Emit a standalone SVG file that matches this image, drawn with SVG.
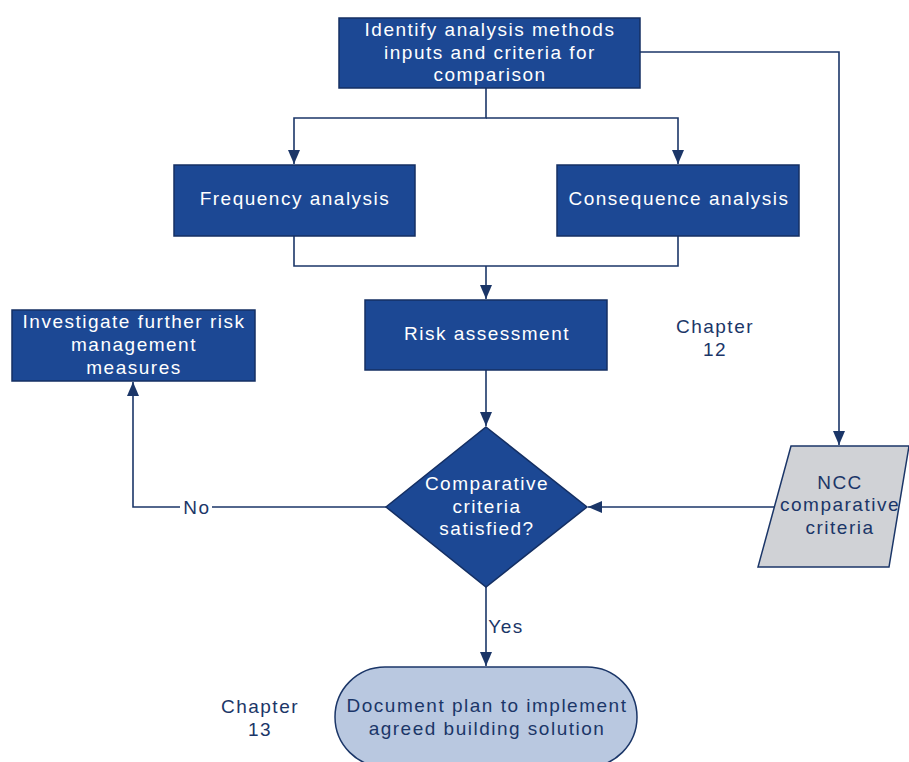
<svg xmlns="http://www.w3.org/2000/svg" width="909" height="762" viewBox="0 0 909 762">
<style>
.box{fill:#1c4894;stroke:#142f63;stroke-width:1.5}
.wt{fill:#ffffff;font-family:"Liberation Sans",Arial,sans-serif;font-size:19px;letter-spacing:1.5px;text-anchor:middle}
.dt{fill:#1b3668;font-family:"Liberation Sans",Arial,sans-serif;font-size:19px;letter-spacing:1.5px;text-anchor:middle}
.ln{fill:none;stroke:#1b3668;stroke-width:1.6}
</style>
<defs>
<marker id="ah" viewBox="0 0 14 12" refX="14" refY="6" markerWidth="14" markerHeight="12" markerUnits="userSpaceOnUse" orient="auto">
<path d="M0,0 L14,6 L0,12 z" fill="#1b3668"/>
</marker>
</defs>
<rect width="909" height="762" fill="#ffffff"/>
<g id="connectors">
<path class="ln" d="M486,88 V118 H294 V164" marker-end="url(#ah)"/>
<path class="ln" d="M486,118 H678 V164" marker-end="url(#ah)"/>
<path class="ln" d="M640,52 H839 V445" marker-end="url(#ah)"/>
<path class="ln" d="M294,236 V266 H678 V236"/>
<path class="ln" d="M486,266 V299" marker-end="url(#ah)"/>
<path class="ln" d="M486,370 V426" marker-end="url(#ah)"/>
<path class="ln" d="M775,507 H588" marker-end="url(#ah)"/>
<path class="ln" d="M386,507 H133 V382" marker-end="url(#ah)"/>
<path class="ln" d="M486,587 V666" marker-end="url(#ah)"/>
<rect x="180" y="497" width="32" height="20" fill="#ffffff"/>
<text class="dt" x="197" y="514">No</text>
<text class="dt" x="506" y="633">Yes</text>
</g>
<g id="identify">
<rect class="box" x="339" y="18" width="301" height="70"/>
<text class="wt" x="490" y="36">Identify analysis methods</text>
<text class="wt" x="490" y="59">inputs and criteria for</text>
<text class="wt" x="490" y="81">comparison</text>
</g>
<g id="frequency">
<rect class="box" x="174" y="165" width="241" height="71"/>
<text class="wt" x="295" y="205">Frequency analysis</text>
</g>
<g id="consequence">
<rect class="box" x="557" y="165" width="242" height="71"/>
<text class="wt" x="679" y="205">Consequence analysis</text>
</g>
<g id="risk">
<rect class="box" x="365" y="300" width="242" height="70"/>
<text class="wt" x="487" y="340">Risk assessment</text>
</g>
<g id="investigate">
<rect class="box" x="12" y="310" width="243" height="71"/>
<text class="wt" x="134" y="328">Investigate further risk</text>
<text class="wt" x="134" y="351">management</text>
<text class="wt" x="134" y="374">measures</text>
</g>
<g id="decision">
<polygon class="box" points="486,427 587,507 486,587 386,507"/>
<text class="wt" x="487" y="490">Comparative</text>
<text class="wt" x="487" y="513">criteria</text>
<text class="wt" x="487" y="535">satisfied?</text>
</g>
<g id="ncc">
<polygon points="791,446 909,446 889,567 758,567" fill="#d0d2d6" stroke="#1b3668" stroke-width="1.5"/>
<text class="dt" x="840" y="489">NCC</text>
<text class="dt" x="840" y="511">comparative</text>
<text class="dt" x="840" y="534">criteria</text>
</g>
<g id="chapter12">
<text class="dt" x="715" y="333">Chapter</text>
<text class="dt" x="715" y="356">12</text>
</g>
<g id="chapter13">
<text class="dt" x="260" y="713">Chapter</text>
<text class="dt" x="260" y="736">13</text>
</g>
<g id="document">
<rect x="335" y="667" width="302" height="100" rx="50" ry="50" fill="#b9c8e0" stroke="#1b3668" stroke-width="1.5"/>
<text class="dt" x="487" y="712">Document plan to implement</text>
<text class="dt" x="487" y="735">agreed building solution</text>
</g>
</svg>
